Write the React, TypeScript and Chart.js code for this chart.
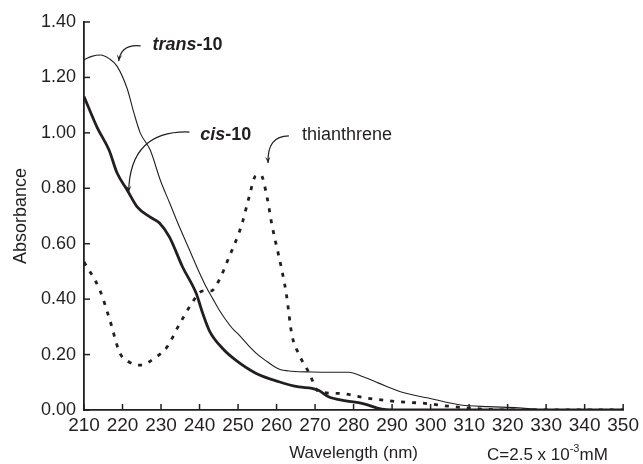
import React, { useEffect, useRef } from "react";
import { Chart, registerables } from "chart.js";

Chart.register(...registerables);

// Wavelength (nm) / absorbance for each spectrum
const transX = [210, 212, 214.3, 216.5, 218.6, 221.2, 222.9, 224.6, 227.2, 229.8, 232.3, 234.8, 237.4, 239.5, 241.7, 243.5, 245.1, 248.5, 250.3, 252.9, 254.6, 257, 260.6, 264, 269.2, 274, 278.7, 282.5, 286.5, 292.4, 299.4, 307.9, 315, 322.7, 328, 335, 350];
const transY = [1.264, 1.276, 1.281, 1.268, 1.24, 1.16, 1.075, 1.0, 0.938, 0.83, 0.745, 0.66, 0.577, 0.51, 0.445, 0.4, 0.361, 0.295, 0.27, 0.23, 0.206, 0.18, 0.148, 0.14, 0.137, 0.136, 0.136, 0.12, 0.097, 0.065, 0.043, 0.018, 0.012, 0.008, 0.002, 0, 0];

const cisX = [210, 213.4, 216.5, 218.6, 221.2, 223.8, 227.2, 229.6, 232.2, 235.6, 239.1, 240.8, 242.6, 246, 249.4, 254.6, 260.6, 265.8, 269.2, 271, 273.5, 278, 282.2, 287.3, 290, 350];
const cisY = [1.131, 1.02, 0.938, 0.855, 0.794, 0.733, 0.696, 0.675, 0.624, 0.516, 0.422, 0.35, 0.285, 0.222, 0.18, 0.133, 0.102, 0.083, 0.078, 0.07, 0.048, 0.033, 0.024, 0.003, 0, 0];

const thiaX = [210, 214.1, 216.7, 219.3, 221.5, 224.5, 228.8, 231.4, 234.8, 238.2, 240, 241.5, 243, 245.1, 247.7, 250, 251.1, 252.9, 254.6, 255.9, 257.5, 258.8, 261.2, 262.5, 264, 265.5, 268.4, 271, 276.1, 283.9, 291.6, 298.5, 304.5, 310, 315, 320, 350];
const thiaY = [0.534, 0.433, 0.325, 0.206, 0.175, 0.162, 0.192, 0.224, 0.31, 0.39, 0.424, 0.43, 0.43, 0.469, 0.553, 0.63, 0.675, 0.77, 0.845, 0.848, 0.77, 0.668, 0.516, 0.422, 0.27, 0.21, 0.135, 0.066, 0.06, 0.042, 0.03, 0.024, 0.014, 0.007, 0.002, 0, 0];

const xTickMin = 210;
const xTickMax = 350;
const yTickMax = 1.4;

const INK = "#231f20";
const FONT = "'Liberation Sans', Arial, sans-serif";

// annotation anchors in data coordinates: [x nm, absorbance]
const labels = [
  { italic: "trans", rest: "-10", bold: true, at: [227.8, 1.299], arrow: [[224.7, 1.314], [219.6, 1.321], [219.0, 1.259]] },
  { italic: "cis", rest: "-10", bold: true, at: [240.2, 0.974], arrow: [[237.4, 1.003], [221.9, 1.01], [221.6, 0.787]] },
  { italic: "", rest: "thianthrene", bold: false, at: [266.6, 0.974], arrow: [[263.2, 0.989], [257.5, 0.989], [257.8, 0.891]] },
];

const zip = (xs: number[], ys: number[]) => xs.map((x, i) => ({ x, y: ys[i] }));

const decor = {
  id: "decor",
  afterDraw(chart: any) {
    const { ctx, scales } = chart;
    const xs = scales.x;
    const ys = scales.y;
    const area = chart.chartArea;
    ctx.save();
    ctx.strokeStyle = INK;
    ctx.lineWidth = 1.5;
    // inward tick marks
    xs.ticks.forEach((t: any) => {
      const px = xs.getPixelForValue(t.value);
      ctx.beginPath();
      ctx.moveTo(px, area.bottom);
      ctx.lineTo(px, area.bottom - 6);
      ctx.stroke();
    });
    ys.ticks.forEach((t: any) => {
      const py = ys.getPixelForValue(t.value);
      ctx.beginPath();
      ctx.moveTo(area.left, py);
      ctx.lineTo(area.left + 6, py);
      ctx.stroke();
    });
    // annotations
    ctx.fillStyle = INK;
    ctx.textBaseline = "alphabetic";
    labels.forEach((l) => {
      let x = xs.getPixelForValue(l.at[0]);
      const y = ys.getPixelForValue(l.at[1]);
      const w = l.bold ? "bold " : "";
      if (l.italic) {
        ctx.font = `italic ${w}18px ${FONT}`;
        ctx.fillText(l.italic, x, y);
        x += ctx.measureText(l.italic).width;
      }
      ctx.font = `${w}18px ${FONT}`;
      ctx.fillText(l.rest, x, y);
      const p = l.arrow.map((a) => [xs.getPixelForValue(a[0]), ys.getPixelForValue(a[1])]);
      ctx.lineWidth = 1.2;
      ctx.beginPath();
      ctx.moveTo(p[0][0], p[0][1]);
      ctx.quadraticCurveTo(p[1][0], p[1][1], p[2][0], p[2][1]);
      ctx.stroke();
      // arrowhead
      const ang = Math.atan2(p[2][1] - p[1][1], p[2][0] - p[1][0]);
      const len = 7;
      ctx.beginPath();
      ctx.moveTo(p[2][0], p[2][1]);
      ctx.lineTo(p[2][0] - len * Math.cos(ang - 0.4), p[2][1] - len * Math.sin(ang - 0.4));
      ctx.lineTo(p[2][0] - len * 0.5 * Math.cos(ang), p[2][1] - len * 0.5 * Math.sin(ang));
      ctx.lineTo(p[2][0] - len * Math.cos(ang + 0.4), p[2][1] - len * Math.sin(ang + 0.4));
      ctx.closePath();
      ctx.fill();
    });
    // concentration note
    let cx = 487;
    const cy = 460;
    ctx.font = `17px ${FONT}`;
    const a = "C=2.5 x 10";
    ctx.fillText(a, cx, cy);
    cx += ctx.measureText(a).width;
    ctx.font = `11px ${FONT}`;
    ctx.fillText("-3", cx, cy - 8);
    cx += ctx.measureText("-3").width;
    ctx.font = `17px ${FONT}`;
    ctx.fillText("mM", cx, cy);
    ctx.restore();
  },
};

export default function App() {
  const ref = useRef<HTMLCanvasElement>(null);
  useEffect(() => {
    if (!ref.current) return;
    const chart = new Chart(ref.current, {
      type: "line",
      data: {
        datasets: [
          { label: "trans-10", data: zip(transX, transY), borderColor: INK, borderWidth: 1.1, pointRadius: 0, cubicInterpolationMode: "monotone", fill: false },
          { label: "cis-10", data: zip(cisX, cisY), borderColor: INK, borderWidth: 2.8, pointRadius: 0, cubicInterpolationMode: "monotone", fill: false },
          { label: "thianthrene", data: zip(thiaX, thiaY), borderColor: INK, borderWidth: 2.8, borderDash: [4, 7], pointRadius: 0, cubicInterpolationMode: "monotone", fill: false },
        ],
      },
      options: {
        animation: false,
        responsive: false,
        events: [],
        layout: { padding: { top: 22, right: 17, left: 0, bottom: 0 } },
        plugins: { legend: { display: false }, tooltip: { enabled: false } },
        scales: {
          x: {
            type: "linear",
            min: xTickMin,
            max: xTickMax,
            afterFit: (s: any) => { s.height = 54; },
            ticks: { stepSize: 10, color: INK, font: { family: FONT, size: 19 }, padding: 4, maxRotation: 0, autoSkip: false },
            grid: { display: true, drawOnChartArea: false, drawTicks: false },
            border: { display: true, color: INK, width: 1.8 },
            title: { display: true, text: "Wavelength (nm)", color: INK, font: { family: FONT, size: 17 }, padding: { top: 0, bottom: 0 } },
          },
          y: {
            min: 0,
            max: yTickMax,
            afterFit: (s: any) => { s.width = 84; },
            ticks: { stepSize: 0.2, color: INK, font: { family: FONT, size: 18 }, padding: 8, callback: (v: any) => Number(v).toFixed(2) },
            grid: { display: true, drawOnChartArea: false, drawTicks: false },
            border: { display: true, color: INK, width: 1.8 },
            title: { display: true, text: "Absorbance", color: INK, font: { family: FONT, size: 18 }, padding: { top: 10, bottom: 0 } },
          },
        },
      },
      plugins: [decor],
    });
    return () => chart.destroy();
  }, []);
  return (
    <div style={{ position: "fixed", left: 0, top: 0, width: 643, height: 464, background: "#fff" }}>
      <canvas ref={ref} width={643} height={464} />
    </div>
  );
}
